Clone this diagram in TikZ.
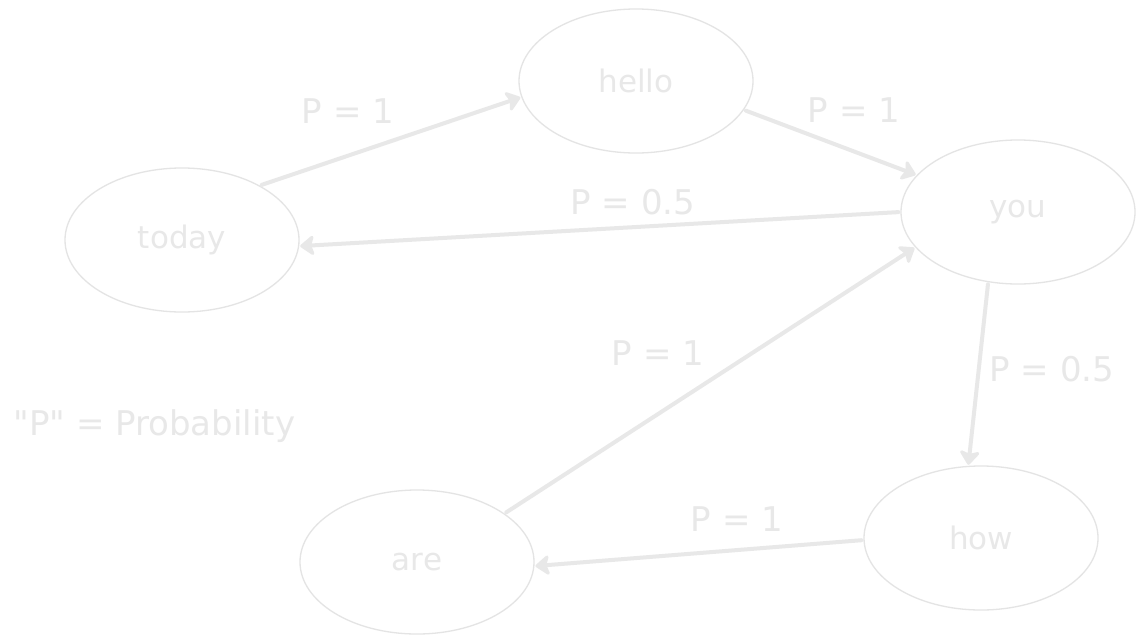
\documentclass[tikz,border=0pt]{standalone}
\usepackage{fontspec}
\setmainfont{DejaVu Sans}
\usetikzlibrary{
    shapes.geometric,
    arrows.meta
}
\definecolor{sketch}{RGB}{232,232,232}
\definecolor{rim}{RGB}{228,228,228}
\tikzset {
    word/.style = {
        ellipse, draw = rim, line width = 1.3pt,
        minimum width = 234pt, minimum height = 144pt, inner sep = 0pt,
        text = sketch, font = \fontsize{31}{35}\selectfont
    },
    prob arrow/.style = {
        draw = sketch, line width = 4pt, line cap = round,
        arrows = {-Stealth[length = 16pt, width = 24pt, inset = 4pt, round]},
        shorten <= 2pt, shorten >= 1pt
    },
    prob/.style = {text = sketch, font = \fontsize{34}{38}\selectfont},
}

\begin{document}
\begin{tikzpicture}[x = 1pt, y = -1pt]
    \fill [white] (0, 0) rectangle (1145, 643);
    \node [word] (hello) at (636, 81) {hello};
    \node [word] (today) at (182, 240) {today};
    \node [word] (you) at (1018, 212) {you};
    \node [word] (how) at (981, 538) {how};
    \node [word] (are) at (417, 562) {are};
    \draw [prob arrow] (today.35) -- (hello.188);
    \draw [prob arrow] (hello.345) -- (you.160);
    \draw [prob arrow] (you.180) -- (today.357);
    \draw [prob arrow] (you.247) -- (how.100);
    \draw [prob arrow] (how.181) -- (are.358);
    \draw [prob arrow] (are.29) -- (you.199);
    \node [prob] (p1) at (348, 111) {P = 1};
    \node [prob] (p2) at (854, 110) {P = 1};
    \node [prob] (p3) at (633, 202) {P = 0.5};
    \node [prob] (p4) at (1052, 369) {P = 0.5};
    \node [prob] (p5) at (737, 519) {P = 1};
    \node [prob] (p6) at (658, 353) {P = 1};
    \node [prob, anchor = base west] (legend) at (10, 435)
        {\textquotedbl P\textquotedbl{} = Probability};
\end{tikzpicture}
\end{document}
